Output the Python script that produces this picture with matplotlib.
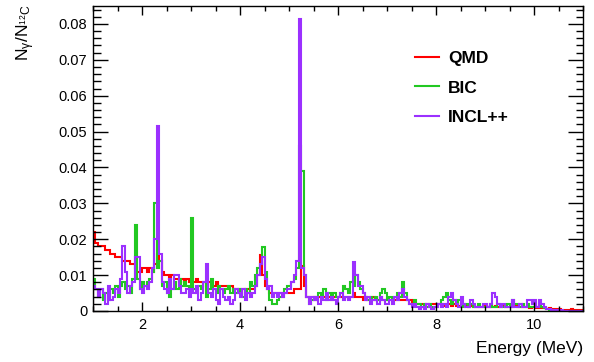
import numpy as np
import matplotlib
matplotlib.use("Agg")
import matplotlib.pyplot as plt
from matplotlib.ticker import MultipleLocator, FuncFormatter

plt.rcParams['font.family'] = ['Liberation Sans', 'DejaVu Sans']
plt.rcParams['mathtext.fontset'] = 'custom'
plt.rcParams['mathtext.rm'] = 'Liberation Sans'
plt.rcParams['mathtext.it'] = 'Liberation Sans:italic'

# Energy bin edges (MeV)
edges = np.round(np.arange(1.0, 11.0001, 0.05), 3)

qmd = [
    # 1-2
    0.022, 0.019, 0.018, 0.018, 0.018, 0.017, 0.017, 0.016, 0.016, 0.015,
    0.015, 0.015, 0.014, 0.014, 0.014, 0.013, 0.013, 0.012, 0.011, 0.011,
    # 2-3
    0.012, 0.012, 0.011, 0.012, 0.011, 0.013, 0.016, 0.014, 0.011, 0.010,
    0.010, 0.009, 0.010, 0.009, 0.009, 0.008, 0.009, 0.008, 0.009, 0.008,
    # 3-4
    0.008, 0.008, 0.009, 0.008, 0.008, 0.008, 0.007, 0.008, 0.007, 0.007,
    0.008, 0.007, 0.007, 0.007, 0.007, 0.006, 0.007, 0.006, 0.006, 0.006,
    # 4-5
    0.006, 0.006, 0.005, 0.006, 0.006, 0.006, 0.007, 0.010, 0.0155, 0.010,
    0.007, 0.006, 0.005, 0.005, 0.005, 0.005, 0.005, 0.005, 0.005, 0.005,
    # 5-6
    0.005, 0.005, 0.006, 0.006, 0.006, 0.0125, 0.007, 0.004, 0.004, 0.004,
    0.003, 0.004, 0.004, 0.004, 0.004, 0.004, 0.004, 0.003, 0.004, 0.004,
    # 6-7
    0.004, 0.004, 0.004, 0.004, 0.004, 0.004, 0.005, 0.004, 0.004, 0.004,
    0.003, 0.004, 0.003, 0.003, 0.004, 0.003, 0.003, 0.004, 0.003, 0.003,
    # 7-8
    0.003, 0.003, 0.003, 0.003, 0.003, 0.003, 0.003, 0.003, 0.003, 0.003,
    0.002, 0.002, 0.002, 0.002, 0.002, 0.002, 0.002, 0.002, 0.002, 0.002,
    # 8-9
    0.002, 0.002, 0.002, 0.0015, 0.002, 0.002, 0.0015, 0.002, 0.0015, 0.0015,
    0.002, 0.0015, 0.0015, 0.0012, 0.0015, 0.0012, 0.0012, 0.0012, 0.0012, 0.0012,
    # 9-10
    0.0015, 0.001, 0.0015, 0.001, 0.0015, 0.001, 0.001, 0.0015, 0.001, 0.001,
    0.001, 0.001, 0.0015, 0.001, 0.001, 0.001, 0.001, 0.001, 0.0008, 0.001,
    # 10-11
    0.001, 0.0008, 0.001, 0.0008, 0.0008, 0.0006, 0.0008, 0.0006, 0.0005, 0.0005,
    0.0005, 0.0004, 0.0004, 0.0004, 0.0003, 0.0005, 0.0003, 0.0003, 0.0003, 0.0003,
]

bic = [
    # 1-2
    0.009, 0.006, 0.004, 0.006, 0.003, 0.005, 0.003, 0.006, 0.005, 0.007,
    0.004, 0.007, 0.008, 0.006, 0.007, 0.005, 0.009, 0.024, 0.009, 0.006,
    # 2-3
    0.008, 0.007, 0.008, 0.009, 0.011, 0.030, 0.012, 0.014, 0.007, 0.008,
    0.005, 0.004, 0.006, 0.008, 0.006, 0.009, 0.007, 0.008, 0.007, 0.006,
    # 3-4
    0.026, 0.006, 0.005, 0.007, 0.006, 0.008, 0.004, 0.006, 0.009, 0.006,
    0.005, 0.007, 0.006, 0.005, 0.006, 0.007, 0.005, 0.006, 0.005, 0.006,
    # 4-5
    0.005, 0.004, 0.006, 0.005, 0.008, 0.007, 0.010, 0.012, 0.013, 0.0177,
    0.011, 0.006, 0.003, 0.002, 0.002, 0.003, 0.004, 0.004, 0.006, 0.007,
    # 5-6
    0.007, 0.008, 0.009, 0.012, 0.046, 0.039, 0.010, 0.004, 0.002, 0.003,
    0.004, 0.003, 0.005, 0.004, 0.006, 0.003, 0.005, 0.004, 0.005, 0.004,
    # 6-7
    0.004, 0.005, 0.007, 0.006, 0.005, 0.008, 0.007, 0.010, 0.008, 0.006,
    0.005, 0.004, 0.003, 0.004, 0.003, 0.004, 0.003, 0.005, 0.006, 0.005,
    # 7-8
    0.003, 0.004, 0.003, 0.004, 0.005, 0.004, 0.008, 0.005, 0.003, 0.002,
    0.002, 0.003, 0.002, 0.002, 0.001, 0.002, 0.001, 0.002, 0.001, 0.001,
    # 8-9
    0.001, 0.002, 0.003, 0.004, 0.005, 0.003, 0.002, 0.003, 0.002, 0.003,
    0.002, 0.001, 0.002, 0.001, 0.002, 0.001, 0.001, 0.002, 0.001, 0.001,
    # 9-10
    0.001, 0.001, 0.002, 0.001, 0.001, 0.002, 0.001, 0.001, 0.001, 0.002,
    0.001, 0.003, 0.002, 0.002, 0.001, 0.002, 0.001, 0.002, 0.001, 0.001,
    # 10-11
    0.001, 0.001, 0.002, 0.001, 0.0008, 0.0005, 0.0003, 0.0003, 0.0002, 0.0002,
    0.0001, 0.0001, 0.0001, 0.0001, 0.0001, 0.0001, 0.0001, 0.0001, 0.0001, 0.0001,
]

incl = [
    # 1-2
    0.007, 0.006, 0.004, 0.006, 0.005, 0.002, 0.007, 0.003, 0.004, 0.006,
    0.005, 0.009, 0.018, 0.011, 0.005, 0.007, 0.008, 0.015, 0.015, 0.006,
    # 2-3
    0.005, 0.007, 0.006, 0.008, 0.012, 0.020, 0.0515, 0.016, 0.008, 0.006,
    0.005, 0.009, 0.006, 0.010, 0.010, 0.007, 0.005, 0.005, 0.006, 0.004,
    # 3-4
    0.006, 0.005, 0.007, 0.003, 0.005, 0.008, 0.013, 0.005, 0.004, 0.006,
    0.003, 0.002, 0.006, 0.004, 0.003, 0.004, 0.002, 0.003, 0.006, 0.005,
    # 4-5
    0.004, 0.006, 0.003, 0.005, 0.004, 0.005, 0.007, 0.010, 0.013, 0.015,
    0.009, 0.006, 0.007, 0.004, 0.005, 0.004, 0.005, 0.004, 0.005, 0.006,
    # 5-6
    0.006, 0.008, 0.010, 0.014, 0.0815, 0.012, 0.010, 0.004, 0.002, 0.004,
    0.003, 0.004, 0.002, 0.004, 0.003, 0.005, 0.003, 0.004, 0.003, 0.002,
    # 6-7
    0.004, 0.005, 0.003, 0.004, 0.003, 0.004, 0.0137, 0.010, 0.007, 0.007,
    0.005, 0.003, 0.004, 0.002, 0.003, 0.003, 0.002, 0.004, 0.003, 0.002,
    # 7-8
    0.002, 0.003, 0.002, 0.004, 0.003, 0.005, 0.006, 0.004, 0.003, 0.002,
    0.001, 0.002, 0.001, 0.0005, 0.001, 0.0005, 0.002, 0.001, 0.0005, 0.001,
    # 8-9
    0.001, 0.002, 0.001, 0.002, 0.001, 0.004, 0.005, 0.003, 0.002, 0.001,
    0.004, 0.002, 0.001, 0.001, 0.003, 0.002, 0.001, 0.001, 0.001, 0.002,
    # 9-10
    0.002, 0.001, 0.002, 0.005, 0.004, 0.002, 0.001, 0.002, 0.001, 0.001,
    0.001, 0.003, 0.001, 0.001, 0.002, 0.001, 0.001, 0.003, 0.003, 0.002,
    # 10-11
    0.003, 0.001, 0.003, 0.002, 0.001, 0.0005, 0.0005, 0.0003, 0.0003, 0.0002,
    0.0002, 0.0002, 0.0001, 0.0001, 0.0001, 0.0001, 0.0001, 0.0001, 0.0001, 0.0001,
]

series_names = ["QMD", "BIC", "INCL++"]
series_colors = ["#ff0000", "#22c822", "#9b30ff"]

fig = plt.figure(figsize=(5.94, 3.62), dpi=100)
ax = fig.add_axes([93/594, 1 - 311/362, 490/594, 305/362])

lw = 1.5
for vals, name, col in zip([qmd, bic, incl], series_names, series_colors):
    ax.stairs(vals, edges, baseline=0, color=col, lw=lw, label=name)

ax.set_xlim(1, 11)
ax.set_ylim(0, 0.085)

ax.xaxis.set_major_locator(MultipleLocator(2))
ax.xaxis.set_minor_locator(MultipleLocator(0.5))
ax.yaxis.set_major_locator(MultipleLocator(0.01))
ax.yaxis.set_minor_locator(MultipleLocator(0.002))
ax.yaxis.set_major_formatter(FuncFormatter(lambda v, p: '0' if abs(v) < 1e-9 else f'{v:.2f}'))

ax.tick_params(axis='both', which='both', direction='in', top=True, right=True,
               labelsize=10.5, width=1.0, colors='black')
ax.tick_params(axis='x', which='major', length=6.5, pad=5)
ax.tick_params(axis='x', which='minor', length=3.5)
ax.tick_params(axis='y', which='major', length=10.8, pad=4)
ax.tick_params(axis='y', which='minor', length=5.4)
for s in ax.spines.values():
    s.set_linewidth(1.0)

fig.text(583/594, 1 - 349/362, "Energy (MeV)", ha='right', va='center', fontsize=12.5)
fig.text(26/594, 0.99, r'$\mathrm{N_{\gamma}/N_{^{12}C}}$', rotation=90,
         ha='center', va='top', fontsize=12.5)

leg = fig.legend(*ax.get_legend_handles_labels(), loc='upper left',
                 bbox_to_anchor=(415/594, 1 - 51/362), frameon=False, borderpad=0,
                 borderaxespad=0,
                 prop={'weight': 'bold', 'size': 12.5}, handlelength=1.4,
                 handletextpad=0.5, labelspacing=0.82)

fig.savefig("out.png", dpi=100)
